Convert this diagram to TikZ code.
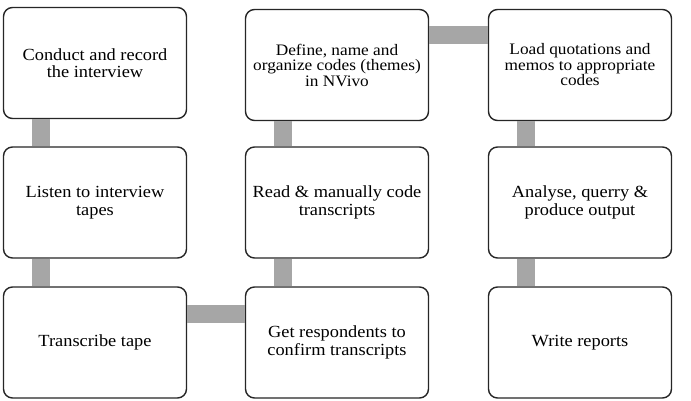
\documentclass[tikz,border=0pt]{standalone}
\usepackage{fontspec}
\setmainfont{Liberation Serif}[FakeStretch=1.08]
\usetikzlibrary{positioning}

\tikzset{
  stage/.style={draw=black!85, line width=1.4pt, fill=white, rounded corners=9pt,
    minimum width=183pt, minimum height=111pt, align=center, inner sep=2pt,
    font=\fontsize{17}{17.5}\selectfont},
  link/.style={draw=black!35, line width=18pt}
}

\begin{document}
\begin{tikzpicture}[x=1pt, y=-1pt]
  \useasboundingbox (0,0) rectangle (691,401);

  \node[stage] (conduct)    at (95,63)    {Conduct and record\\the interview};
  \node[stage] (listen)     at (95,202.5) {Listen to interview\\tapes};
  \node[stage] (transcribe) at (95,342.5) {Transcribe tape};

  \node[stage, font=\fontsize{16}{15.5}\selectfont] (define) at (337,65)
    {Define, name and\\organize codes (themes)\\in NVivo};
  \node[stage] (read)    at (337,202.5) {Read \& manually code\\transcripts};
  \node[stage] (confirm) at (337,342.5) {Get respondents to\\confirm transcripts};

  \node[stage, font=\fontsize{16}{15.5}\selectfont] (load) at (580,65)
    {Load quotations and\\memos to appropriate\\codes};
  \node[stage] (analyse) at (580,202.5) {Analyse, querry \&\\produce output};
  \node[stage] (write)   at (580,342.5) {Write reports};

  \draw[link] ([xshift=38pt]conduct.south west) -- ([xshift=38pt]listen.north west);
  \draw[link] ([xshift=38pt]listen.south west) -- ([xshift=38pt]transcribe.north west);
  \draw[link] ([yshift=-28pt]transcribe.north east) -- ([yshift=-28pt]confirm.north west);
  \draw[link] ([xshift=38pt]confirm.north west) -- ([xshift=38pt]read.south west);
  \draw[link] ([xshift=38pt]read.north west) -- ([xshift=38pt]define.south west);
  \draw[link] ([yshift=-26pt]define.north east) -- ([yshift=-26pt]load.north west);
  \draw[link] ([xshift=38pt]load.south west) -- ([xshift=38pt]analyse.north west);
  \draw[link] ([xshift=38pt]analyse.south west) -- ([xshift=38pt]write.north west);
\end{tikzpicture}
\end{document}
